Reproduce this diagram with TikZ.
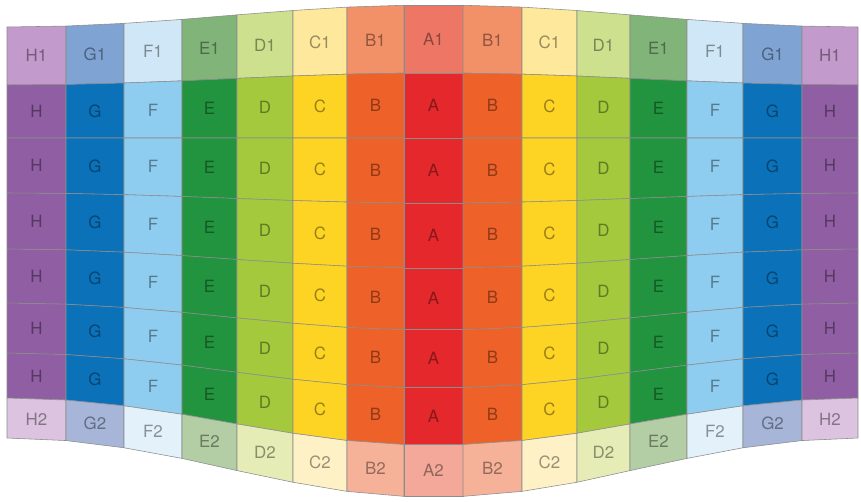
\documentclass[tikz,border=0pt]{standalone}
\usepackage{fontspec}
\setsansfont{TeX Gyre Heros}
\usepackage{tikz}
\usetikzlibrary{calc}

% block colours: X1 top, X middle, X2 bottom
\definecolor{colH1}{HTML}{C29ACB}
\definecolor{colH}{HTML}{8F5EA3}
\definecolor{colH2}{HTML}{DCC3E0}
\definecolor{colG1}{HTML}{7FA3D2}
\definecolor{colG}{HTML}{0B72B9}
\definecolor{colG2}{HTML}{A6B5D8}
\definecolor{colF1}{HTML}{CFE7F7}
\definecolor{colF}{HTML}{8ECDEF}
\definecolor{colF2}{HTML}{E2F1FA}
\definecolor{colE1}{HTML}{80B478}
\definecolor{colE}{HTML}{22943F}
\definecolor{colE2}{HTML}{B3CDA5}
\definecolor{colD1}{HTML}{CDE08E}
\definecolor{colD}{HTML}{A5C93C}
\definecolor{colD2}{HTML}{E5ECB6}
\definecolor{colC1}{HTML}{FDE89C}
\definecolor{colC}{HTML}{FED424}
\definecolor{colC2}{HTML}{FDF1C5}
\definecolor{colB1}{HTML}{F29068}
\definecolor{colB}{HTML}{EE6128}
\definecolor{colB2}{HTML}{F6B298}
\definecolor{colA1}{HTML}{EE7664}
\definecolor{colA}{HTML}{E4282B}
\definecolor{colA2}{HTML}{F3A899}

\tikzset{
    cell/.style={draw=black!45, line width=0.4pt, line join=round},
    cellname/.style={font=\sffamily\fontsize{12}{14}\selectfont, inner sep=0pt}
}

% column edges and row lines (outer value and extra bend at the middle)
\def\coledge{{7,66,124,182,237,293,347,404,463,522,577,630,687,743,802,858}}
\def\rowbase{{27,85,138,193,249,303,353,398,438}}
\def\rowbend{{-22,-12,0,10,19,27,35,47,59}}

\begin{document}
\begin{tikzpicture}[x=0.025cm, y=-0.025cm,
        declare function={bend(\d)=0.5*(1+cos(24*\d));}]
    \useasboundingbox (0,0) rectangle (861,501);

    % Blocks, column by column
    \foreach \j/\c in {0/H,1/G,2/F,3/E,4/D,5/C,6/B,7/A,8/B,9/C,10/D,11/E,12/F,13/G,14/H} {
        \pgfmathsetmacro\xl{\coledge[\j]}
        \pgfmathsetmacro\xr{\coledge[\j+1]}
        \pgfmathsetmacro\hl{bend(abs(\j-7.5))}
        \pgfmathsetmacro\hr{bend(abs(\j-6.5))}
        \foreach \i/\s in {0/1,1/,2/,3/,4/,5/,6/,7/2} {
            \pgfmathsetmacro\ytl{\rowbase[\i]+\rowbend[\i]*\hl}
            \pgfmathsetmacro\ytr{\rowbase[\i]+\rowbend[\i]*\hr}
            \pgfmathsetmacro\ybl{\rowbase[\i+1]+\rowbend[\i+1]*\hl}
            \pgfmathsetmacro\ybr{\rowbase[\i+1]+\rowbend[\i+1]*\hr}
            \draw[cell, fill=col\c\s] (\xl,\ytl) -- (\xr,\ytr) -- (\xr,\ybr) -- (\xl,\ybl) -- cycle;
            \node[cellname, text=col\c\s!60!black] (cell-\j-\i)
                at ({(\xl+\xr)/2},{(\ytl+\ytr+\ybl+\ybr)/4}) {\c\s};
        }
    }
\end{tikzpicture}
\end{document}
